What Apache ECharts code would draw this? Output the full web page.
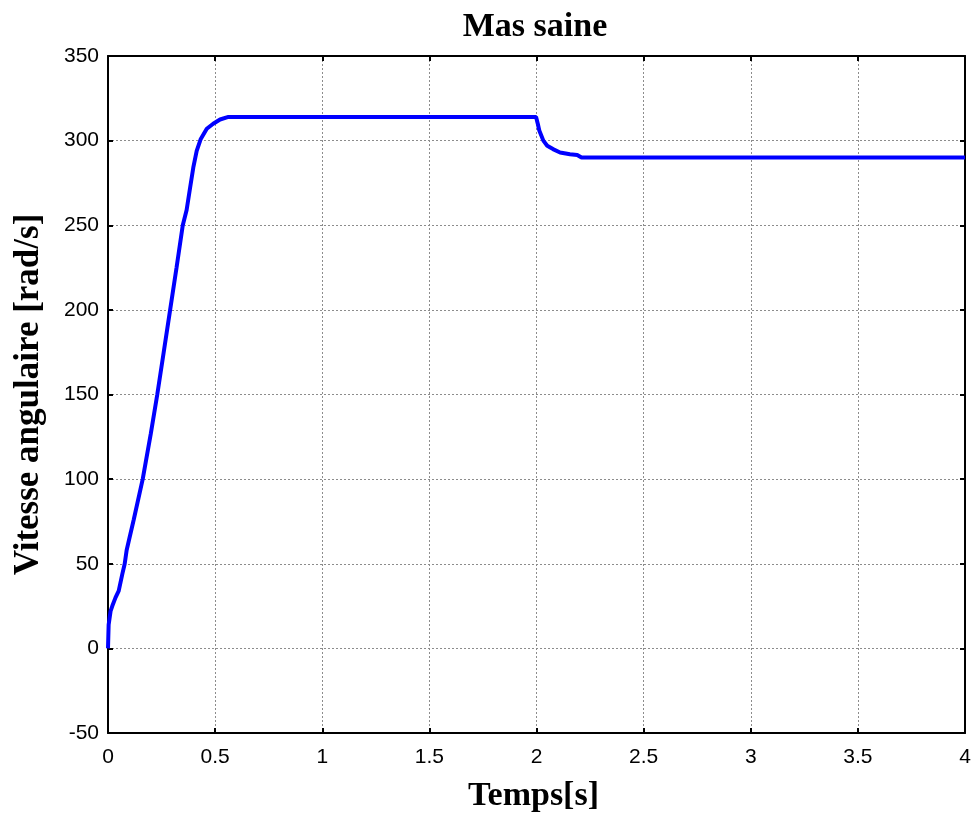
<!DOCTYPE html>
<html>
<head>
<meta charset="utf-8">
<script src="https://cdn.jsdelivr.net/npm/echarts@6/dist/echarts.min.js"></script>
<style>
  html, body { margin: 0; padding: 0; background: #fff; }
  #chart { width: 976px; height: 816px; }
</style>
</head>
<body>
<div id="chart"></div>
<script>
// Rotor angular speed over time (healthy machine)
const timeS = [0, 0.003, 0.006, 0.012, 0.02, 0.035, 0.05, 0.067, 0.078, 0.087, 0.098, 0.12, 0.162,
  0.2, 0.23, 0.26, 0.29, 0.32, 0.349, 0.367, 0.383, 0.398, 0.414, 0.433, 0.461, 0.491, 0.523,
  0.562, 0.6, 1.0, 1.5, 1.998, 2.006, 2.013, 2.032, 2.05, 2.077, 2.11, 2.156, 2.19, 2.21, 2.5,
  3.0, 3.5, 4.0];
const speed = [0, 14, 15, 22, 25, 30, 34, 44, 50, 58, 64, 76, 100,
  127, 150, 175, 200, 225, 250, 259, 272, 284, 294, 301, 307, 310, 312.5,
  314, 314, 314, 314, 314, 310, 306, 300, 297, 295, 293, 292, 291.5, 290, 290,
  290, 290, 290];

const xTicks = { min: 0, max: 4, interval: 0.5 };
const yTicks = { min: -50, max: 350, interval: 50 };

const chart = echarts.init(document.getElementById('chart'));

const serif = 'Liberation Serif, Times New Roman, serif';
const gridLine = { show: true, lineStyle: { color: '#8c8c8c', type: [2, 2], width: 1 } };
const boxLine = { show: true, onZero: false, lineStyle: { color: '#000', width: 2 } };
const tickIn = { show: true, inside: true, length: 5, lineStyle: { color: '#000', width: 2 } };
const tickFont = { color: '#000', fontFamily: 'Liberation Sans, Arial, sans-serif', fontSize: 21 };

chart.setOption({
  animation: false,
  backgroundColor: '#fff',
  title: {
    text: 'Mas saine',
    left: 530,
    textAlign: 'center',
    top: 5,
    textStyle: { fontFamily: serif, fontWeight: 'bold', fontSize: 34, color: '#000' }
  },
  grid: { left: 108, top: 56, right: 11, bottom: 83, containLabel: false, outerBoundsMode: 'none' },
  xAxis: [
    {
      type: 'value', min: xTicks.min, max: xTicks.max, interval: xTicks.interval,
      name: 'Temps[s]', nameLocation: 'middle', nameGap: 46,
      nameTextStyle: { fontFamily: serif, fontWeight: 'bold', fontSize: 34, color: '#000', padding: [0, 6, 0, 0] },
      axisLine: boxLine, axisTick: tickIn, splitLine: gridLine,
      axisLabel: Object.assign({ margin: 14 }, tickFont)
    },
    {
      type: 'value', position: 'top', min: xTicks.min, max: xTicks.max, interval: xTicks.interval,
      axisLine: boxLine, axisTick: tickIn, splitLine: { show: false }, axisLabel: { show: false }
    }
  ],
  yAxis: [
    {
      type: 'value', min: yTicks.min, max: yTicks.max, interval: yTicks.interval,
      name: 'Vitesse angulaire [rad/s]', nameLocation: 'middle', nameGap: 62,
      nameTextStyle: { fontFamily: serif, fontWeight: 'bold', fontSize: 35, color: '#000' },
      axisLine: boxLine, axisTick: tickIn, splitLine: gridLine,
      axisLabel: Object.assign({ margin: 9 }, tickFont)
    },
    {
      type: 'value', position: 'right', min: yTicks.min, max: yTicks.max, interval: yTicks.interval,
      axisLine: boxLine, axisTick: tickIn, splitLine: { show: false }, axisLabel: { show: false }
    }
  ],
  series: [{
    type: 'line',
    data: timeS.map((t, i) => [t, speed[i]]),
    showSymbol: false,
    lineStyle: { color: '#0000ff', width: 4 },
    itemStyle: { color: '#0000ff' }
  }]
});
</script>
</body>
</html>
